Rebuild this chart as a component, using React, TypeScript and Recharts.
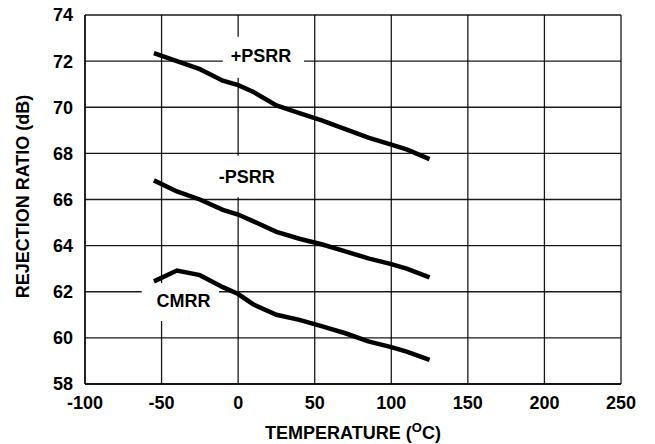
import React from 'react';
import {
  LineChart,
  Line,
  XAxis,
  YAxis,
  CartesianGrid,
  ReferenceArea,
  ReferenceDot
} from 'recharts';

const temps = [-55, -40, -25, -10, 0, 10, 25, 40, 55, 70, 85, 100, 110, 125];
const psrrPlus = [72.35, 72.0, 71.65, 71.15, 70.96, 70.66, 70.08, 69.75, 69.42, 69.05, 68.68, 68.38, 68.17, 67.75];
const psrrMinus = [66.83, 66.35, 66.0, 65.55, 65.35, 65.05, 64.6, 64.3, 64.05, 63.75, 63.45, 63.2, 63.0, 62.62];
const cmrr = [62.45, 62.92, 62.72, 62.2, 61.9, 61.45, 61.0, 60.78, 60.5, 60.2, 59.85, 59.6, 59.4, 59.05];

const xTicks = [-100, -50, 0, 50, 100, 150, 200, 250];
const yTicks = [58, 60, 62, 64, 66, 68, 70, 72, 74];

const chartData = temps.map((t, i) => ({
  t,
  plus: psrrPlus[i],
  minus: psrrMinus[i],
  cmrr: cmrr[i]
}));

const FONT = 'Arial, "Liberation Sans", sans-serif';
const tickStyle = { fill: '#000', fontSize: 18, fontWeight: 'bold' as const, fontFamily: FONT };
const labelStyle = { fill: '#000', fontSize: 18, fontWeight: 'bold', fontFamily: FONT };

const XTitle = (props: any) => {
  const vb = props.viewBox || { x: 85, y: 384, width: 536 };
  const cx = vb.x + vb.width / 2;
  return (
    <text x={cx} y={vb.y + 55} textAnchor="middle" fill="#000" fontSize={18} fontWeight="bold" fontFamily={FONT}>
      TEMPERATURE (<tspan fontSize={13} dy={-7}>O</tspan>
      <tspan dy={7}>C)</tspan>
    </text>
  );
};

const YTitle = (props: any) => {
  const vb = props.viewBox || { x: 0, y: 15, height: 369 };
  const cy = vb.y + vb.height / 2 - 3;
  const x = 29;
  return (
    <text x={x} y={cy} transform={`rotate(-90, ${x}, ${cy})`} textAnchor="middle" fill="#000" fontSize={18} fontWeight="bold" fontFamily={FONT}>
      REJECTION RATIO (dB)
    </text>
  );
};

const App: React.FC = () => {
  return (
    <div style={{ position: 'absolute', left: 0, top: 0, width: 655, height: 444, background: '#fff' }}>
      <LineChart width={655} height={444} data={chartData} margin={{ top: 15, right: 34, bottom: 0, left: 0 }}>
        <CartesianGrid stroke="#000" strokeWidth={1.3} strokeOpacity={0.9} />
        <XAxis
          type="number"
          dataKey="t"
          domain={[-100, 250]}
          ticks={xTicks}
          tickLine={false}
          tickMargin={6}
          axisLine={{ stroke: '#000', strokeWidth: 1.3 }}
          tick={tickStyle}
          height={60}
          interval={0}
          label={<XTitle />}
        />
        <YAxis
          type="number"
          domain={[58, 74]}
          ticks={yTicks}
          tickLine={false}
          tickMargin={6}
          axisLine={{ stroke: '#000', strokeWidth: 1.3 }}
          tick={tickStyle}
          width={85}
          interval={0}
          label={<YTitle />}
        />
        <ReferenceArea x1={-10} x2={43} y1={71.28} y2={73.06} fill="#fff" fillOpacity={1} stroke="none" />
        <ReferenceArea x1={-18.4} x2={29.3} y1={66.1} y2={67.9} fill="#fff" fillOpacity={1} stroke="none" />
        <ReferenceArea x1={-63} x2={-12.5} y1={60.73} y2={62.38} fill="#fff" fillOpacity={1} stroke="none" />
        <Line dataKey="plus" stroke="#000" strokeWidth={4.5} dot={false} type="linear" isAnimationActive={false} />
        <Line dataKey="minus" stroke="#000" strokeWidth={4.5} dot={false} type="linear" isAnimationActive={false} />
        <Line dataKey="cmrr" stroke="#000" strokeWidth={4.5} dot={false} type="linear" isAnimationActive={false} />
        <ReferenceDot x={14.9} y={72.22} r={0} stroke="none" fill="none" label={{ value: '+PSRR', position: 'center', ...labelStyle }} />
        <ReferenceDot x={5.6} y={66.99} r={0} stroke="none" fill="none" label={{ value: '-PSRR', position: 'center', ...labelStyle }} />
        <ReferenceDot x={-35.7} y={61.63} r={0} stroke="none" fill="none" label={{ value: 'CMRR', position: 'center', ...labelStyle }} />
      </LineChart>
    </div>
  );
};

export default App;
